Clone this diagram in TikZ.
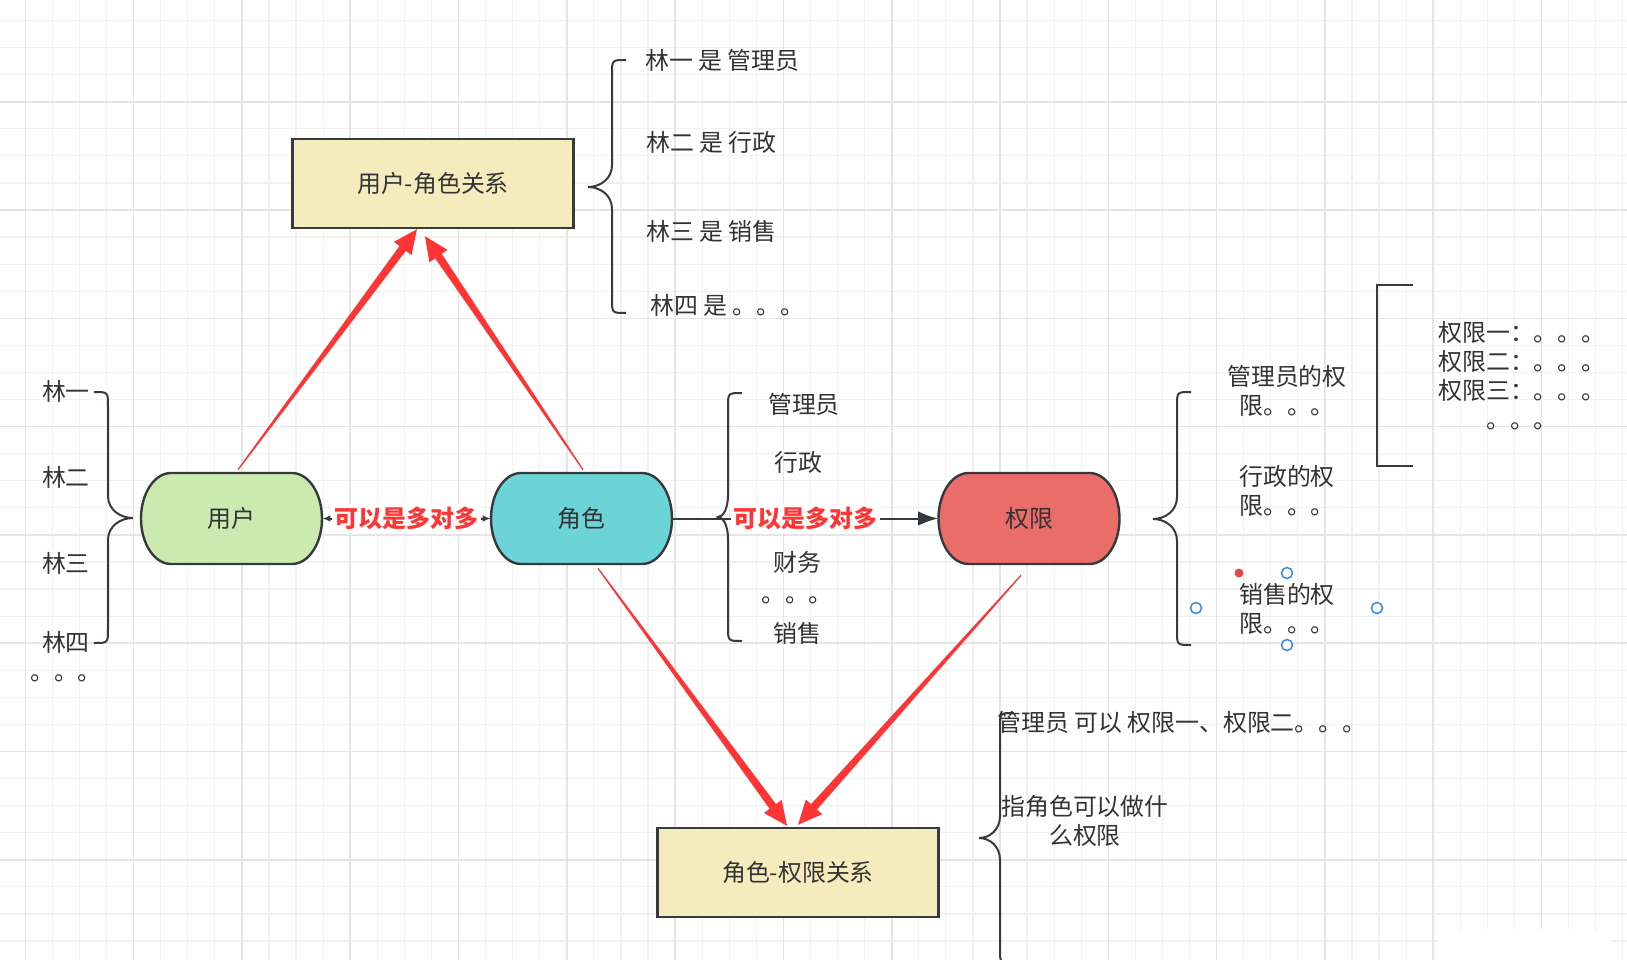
\documentclass[tikz,border=0pt]{standalone}
\usepackage{fontspec}
\setmainfont{Noto Sans CJK SC}
\usetikzlibrary{arrows.meta,calc}
\definecolor{ink}{HTML}{333333}
\definecolor{edge}{HTML}{36393D}
\definecolor{alert}{HTML}{FF3535}
\definecolor{boxfill}{HTML}{F5ECBD}
\definecolor{userfill}{HTML}{C9EBAF}
\definecolor{rolefill}{HTML}{6CD3D6}
\definecolor{permfill}{HTML}{EA6D6A}
\definecolor{gridthin}{HTML}{F1F1F1}
\definecolor{gridthick}{HTML}{E5E5E5}
\definecolor{handle}{HTML}{3D8FE8}
\definecolor{grip}{HTML}{E64646}

% pill shape with elliptic ends: name, centre, fill, text
\newcommand{\pillat}[4]{%
  \draw[shapeline,fill=#3] ($(#2)+(-60.5,45.5)$) -- ($(#2)+(60.5,45.5)$)
    arc[start angle=90,end angle=-90,x radius=30,y radius=45.5]
    -- ($(#2)+(-60.5,-45.5)$)
    arc[start angle=270,end angle=90,x radius=30,y radius=45.5] -- cycle;
  \node[pilltext] (#1) at (#2) {#4};}
% curly brace: cusp x, cusp y, top y, bottom y, signed depth
\newcommand{\curlylist}[5]{%
  \draw[bracestroke] ({#1+(#5)+14*sign(#5)},#3) .. controls ({#1+(#5)},#3) .. ({#1+(#5)},{#3-14})
    -- ({#1+(#5)},{#2+22}) .. controls ({#1+(#5)},{#2+8}) and ({#1+0.5*(#5)},#2) .. (#1,#2)
    .. controls ({#1+0.5*(#5)},#2) and ({#1+(#5)},{#2-8}) .. ({#1+(#5)},{#2-22})
    -- ({#1+(#5)},{#4+14}) .. controls ({#1+(#5)},#4) .. ({#1+(#5)+14*sign(#5)},#4);}
% red arrow that widens towards its head: tail, tip
\newcommand{\taperarrow}[2]{%
  \coordinate (ta) at (#1); \coordinate (tb) at (#2);
  \coordinate (tn) at ($(tb)!0.6cm!(ta)$);
  \fill[alert] ($(ta)!0.015cm!90:(tb)$) -- ($(tn)!0.1cm!-90:(ta)$) -- ($(tn)!0.275cm!-90:(ta)$)
    -- (tb) -- ($(tn)!0.275cm!90:(ta)$) -- ($(tn)!0.1cm!90:(ta)$) -- ($(ta)!0.015cm!-90:(tb)$) -- cycle;}

\begin{document}
\begin{tikzpicture}[x=0.025cm,y=0.025cm,font=\fontsize{17}{20.6}\selectfont,
  gridline/.style={draw=gridthin,line width=0.03cm},
  gridbold/.style={draw=gridthick,line width=0.04cm},
  shapeline/.style={draw=edge,line width=0.06cm},
  relbox/.style={shapeline,fill=boxfill,text=ink,minimum width=7.025cm,minimum height=2.225cm},
  pilltext/.style={text=ink,minimum width=4.525cm,minimum height=2.275cm},
  bracestroke/.style={draw=edge,line width=0.05cm},
  conn/.style={draw=edge,line width=0.05cm},
  lbl/.style={fill=white,text=alert,font=\fontsize{17}{20.6}\selectfont\bfseries,inner sep=2pt},
  txt/.style={text=ink,inner sep=0pt,align=center}]
  \fill[white] (0,0) rectangle (1627,-960);
  \useasboundingbox (0,0) rectangle (1627,-960);
  % grid
  \foreach \i in {-1,...,59} \draw[gridline] ({25.3+27.075*\i},0) -- ({25.3+27.075*\i},-960);
  \foreach \j in {-3,...,31} \draw[gridline] (0,{-101.7-27.075*\j}) -- (1627,{-101.7-27.075*\j});
  \foreach \i in {0,...,14} \draw[gridbold] ({25.3+108.3*\i},0) -- ({25.3+108.3*\i},-960);
  \foreach \j in {0,...,7} \draw[gridbold] (0,{-101.7-108.3*\j}) -- (1627,{-101.7-108.3*\j});
  \fill[white,rounded corners=0.15cm] (1436,-940) rectangle (1614,-975);
  \fill[white,rounded corners=0.15cm] (1460,-929) rectangle (1597,-950);

  % main shapes
  \node[relbox] (urbox) at (433,-183.5) {用户-角色关系};
  \node[relbox] (rpbox) at (798,-872.5) {角色-权限关系};
  \pillat{user}{231.5,-518.5}{userfill}{用户}
  \pillat{role}{581.5,-518.5}{rolefill}{角色}
  \pillat{perm}{1029,-518.5}{permfill}{权限}

  % braces
  \curlylist{133}{-518}{-392}{-643}{-25}
  \curlylist{588}{-187}{-60}{-313}{24}
  \curlylist{718}{-517}{-393}{-641}{10}
  \curlylist{1153}{-519}{-392}{-645}{24}
  \curlylist{979}{-838}{-713}{-963}{21}
  \draw[bracestroke] (1413,-285) -- (1377,-285) -- (1377,-466) -- (1413,-466);

  % edges
  \draw[conn,{Latex[length=0.2cm,width=0.16cm]}-{Latex[length=0.2cm,width=0.16cm]}] (user.east) -- node[lbl] {可以是多对多} (role.west);
  \draw[conn,-{Latex[length=0.5cm,width=0.36cm]}] (role.east) -- node[lbl] {可以是多对多} (perm.west);
  \taperarrow{$(user.north)+(6.5,3)$}{$(urbox.south)+(-16,0)$}
  \taperarrow{$(role.north)+(1.5,3)$}{$(urbox.south)+(-8,-7)$}
  \taperarrow{$(role.south)+(16.5,-4)$}{$(rpbox.north)+(-11,1)$}
  \taperarrow{$(perm.south)+(-8,-11)$}{$(rpbox.north)+(0,2)$}

  % lists
  \foreach \t/\y [count=\i] in {林一/391,林二/477,林三/563} \node[txt] (lin\i) at (66,-\y) {\t};
  \node[txt] (lin4) at (66,-657) {林四\\。。。};
  \foreach \x/\y/\t [count=\i] in {645/60/林一 是 管理员,646/142/林二 是 行政,646/231/林三 是 销售,650/305/林四 是 。。。}
    \node[txt,anchor=west] (ur\i) at (\x,-\y) {\t};
  \foreach \x/\y/\t [count=\i] in {804/404/管理员,798/462/行政,797/562/财务,797/600/。。。,797/633/销售}
    \node[txt] (rl\i) at (\x,-\y) {\t};
  \foreach \y/\t [count=\i] in {390.5/管理员的权\\限。。。,491/行政的权\\限。。。,609/销售的权\\限。。。}
    \node[txt] (pm\i) at (1287,-\y) {\t};
  \node[txt] (pmlist) at (1522,-376) {权限一：。。。\\权限二：。。。\\权限三：。。。\\。。。};
  \node[txt,anchor=west] (rp1) at (997,-722) {管理员 可以 权限一、权限二。。。};
  \node[txt] (rp2) at (1085,-821) {指角色可以做什\\么权限};

  % selection handles round the last text
  \foreach \p in {(1287,-573),(1196,-608),(1377,-608),(1287,-645)}
    \draw[handle,fill=white,line width=0.04cm] \p circle[radius=5.5];
  \fill[grip] (1239,-573) circle[radius=4.5];
\end{tikzpicture}
\end{document}
